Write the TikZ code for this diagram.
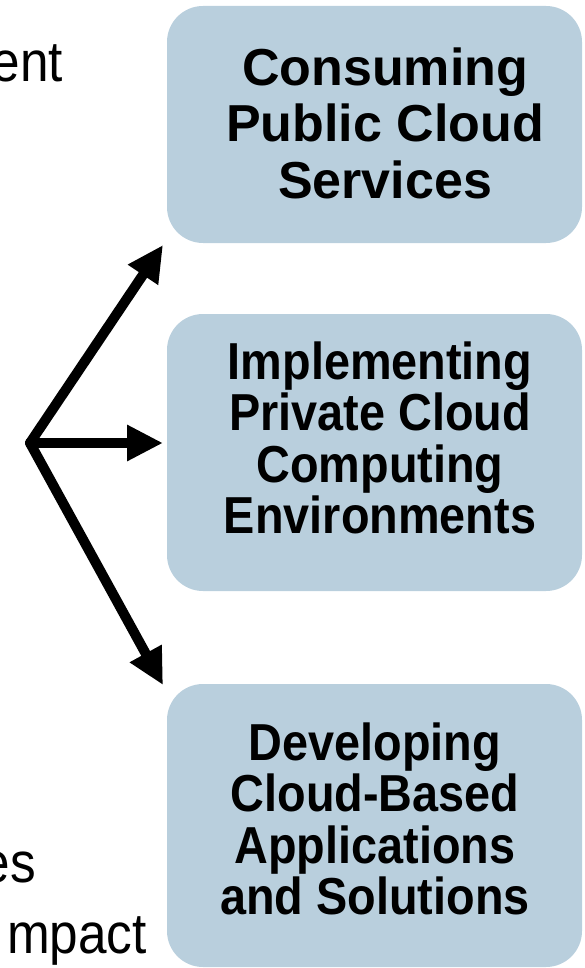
\documentclass[tikz,border=0pt]{standalone}
\usepackage{fontspec}
\setmainfont{Liberation Sans}
\newfontfamily\slimfont[FakeStretch=0.9]{Liberation Sans}
\usetikzlibrary{arrows.meta}
\definecolor{boxblue}{RGB}{185,207,221}

\begin{document}
\begin{tikzpicture}[x=1pt,y=-1pt,
  area box/.style={fill=boxblue,rounded corners=36pt,minimum width=415pt,inner sep=0pt},
  area text/.style={font=\bfseries\fontsize{52}{56.5}\selectfont,align=center},
  slim text/.style={font=\slimfont\bfseries\fontsize{52}{51.5}\selectfont,align=center},
  side text/.style={anchor=base east,inner sep=0pt,font=\slimfont\fontsize{57}{57}\selectfont},
  fan/.style={line width=10pt,line cap=round,-{Triangle[length=36pt,width=34pt]}}]
  \useasboundingbox (0,0) rectangle (585,968);

  % the three ways in
  \node[area box,minimum height=237pt] (public) at (374.5,124.5) {};
  \node[area box,minimum height=277pt] (private) at (374.5,452.5) {};
  \node[area box,minimum height=283pt] (develop) at (374.5,825.5) {};
  \node[area text] (publictext) at (385,123) {Consuming\\Public Cloud\\Services};
  \node[slim text] (privatetext) at (380,438) {Implementing\\Private Cloud\\Computing\\Environments};
  \node[slim text] (developtext) at (375,819) {Developing\\Cloud-Based\\Applications\\and Solutions};

  % bits of the text on the left
  \node[side text] (ent) at (63,82) {ent};
  \node[side text] (es) at (36,882) {es};
  \node[side text] (mpact) at (147,953) {mpact};

  \coordinate (hub) at (30,443);
  \coordinate (up) at (163,245);
  \coordinate (mid) at (163,443);
  \coordinate (down) at (163,685);

\path[fan]
  (hub) edge (up)
  (hub) edge (mid)
  (hub) edge (down)
;
\end{tikzpicture}
\end{document}
